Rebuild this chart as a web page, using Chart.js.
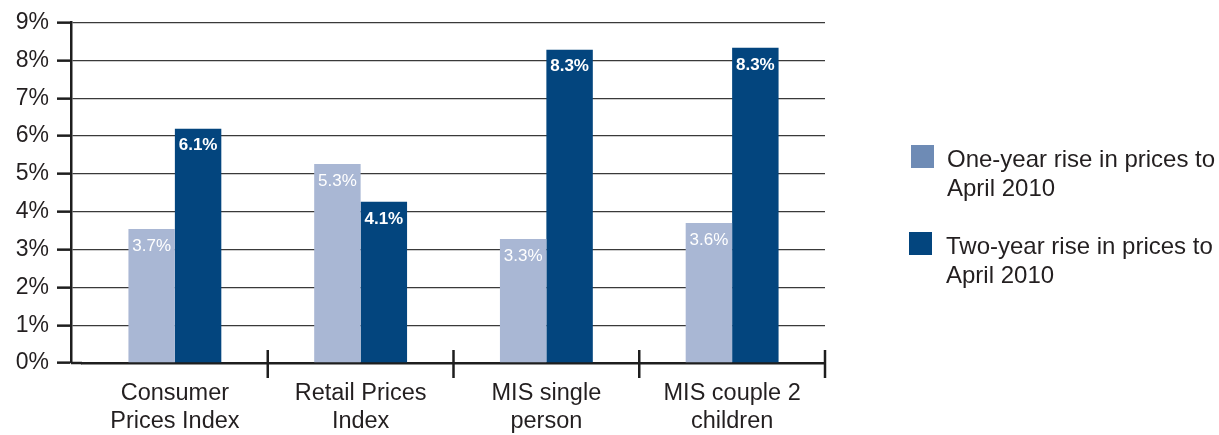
<!DOCTYPE html>
<html>
<head>
<meta charset="utf-8">
<script src="https://cdn.jsdelivr.net/npm/chart.js@4/dist/chart.umd.min.js"></script>
<style>
  html, body { margin: 0; padding: 0; background: #ffffff; }
  #wrap { position: relative; width: 1219px; height: 435px; }
</style>
</head>
<body>
<div id="wrap"><canvas id="priceChart"></canvas></div>
<script>
// categories (multi-line x labels)
const categories = [
  ['Consumer', 'Prices Index'],
  ['Retail Prices', 'Index'],
  ['MIS single', 'person'],
  ['MIS couple 2', 'children']
];

// series names (legend, two lines each)
const seriesNames = [
  ['One-year rise in prices to', 'April 2010'],
  ['Two-year rise in prices to', 'April 2010']
];

// bar heights (%)
const oneYearValues = [3.54, 5.26, 3.28, 3.70];
const twoYearValues = [6.19, 4.26, 8.28, 8.33];

// printed labels on the bars
const oneYearLabels = ['3.7%', '5.3%', '3.3%', '3.6%'];
const twoYearLabels = ['6.1%', '4.1%', '8.3%', '8.3%'];

// y axis ticks
const yTicks = [0, 1, 2, 3, 4, 5, 6, 7, 8, 9];

const FONT = '"Liberation Sans", Arial, Helvetica, sans-serif';
const TEXT = '#231f20';
const LIGHT = '#a9b7d4';
const DARK = '#03457e';
const LEGEND_COLORS = ['#6e8bb5', '#03457e'];

// shift the category axis so the plot starts a little right of the y axis line
const shiftCategories = {
  id: 'shiftCategories',
  afterLayout(chart) {
    const x = chart.scales.x;
    x.left = chart.chartArea.left + 11;
    x.configure();
  }
};

// white value labels just inside the top of each bar
const barLabels = {
  id: 'barLabels',
  afterDatasetsDraw(chart) {
    const ctx = chart.ctx;
    const sets = [
      { labels: oneYearLabels, font: 'normal 17px ' + FONT },
      { labels: twoYearLabels, font: 'bold 17px ' + FONT }
    ];
    ctx.save();
    ctx.fillStyle = '#ffffff';
    ctx.textAlign = 'center';
    ctx.textBaseline = 'middle';
    sets.forEach((s, di) => {
      ctx.font = s.font;
      chart.getDatasetMeta(di).data.forEach((bar, i) => {
        ctx.fillText(s.labels[i], bar.x, bar.y + 17);
      });
    });
    ctx.restore();
  }
};

// category separators crossing the x axis
const categoryTicks = {
  id: 'categoryTicks',
  afterDraw(chart) {
    const ctx = chart.ctx;
    const x = chart.scales.x;
    const base = chart.chartArea.bottom;
    ctx.save();
    ctx.strokeStyle = '#1e1e1e';
    ctx.lineWidth = 2.5;
    // extend x axis line back to the y axis
    ctx.beginPath();
    ctx.moveTo(chart.chartArea.left, base);
    ctx.lineTo(x.left, base);
    ctx.stroke();
    for (let k = 1; k <= categories.length; k++) {
      const px = x.getPixelForValue(k - 0.5);
      ctx.beginPath();
      ctx.moveTo(px, base - 13);
      ctx.lineTo(px, base + 15);
      ctx.stroke();
    }
    ctx.restore();
  }
};

// legend on the right with wrapped text
const sideLegend = {
  id: 'sideLegend',
  afterDraw(chart) {
    const ctx = chart.ctx;
    const items = [
      { sx: 911, sy: 145, tx: 947, ty: 160 },
      { sx: 909, sy: 232, tx: 946, ty: 247 }
    ];
    ctx.save();
    ctx.font = '24px ' + FONT;
    ctx.textBaseline = 'middle';
    ctx.textAlign = 'left';
    items.forEach((it, i) => {
      ctx.fillStyle = LEGEND_COLORS[i];
      ctx.fillRect(it.sx, it.sy, 23, 23);
      ctx.fillStyle = TEXT;
      seriesNames[i].forEach((line, j) => {
        ctx.fillText(line, it.tx, it.ty + j * 29);
      });
    });
    ctx.restore();
  }
};

const ctx = document.getElementById('priceChart').getContext('2d');
new Chart(ctx, {
  type: 'bar',
  data: {
    labels: categories,
    datasets: [
      {
        label: seriesNames[0].join(' '),
        data: oneYearValues,
        backgroundColor: LIGHT,
        categoryPercentage: 0.5,
        barPercentage: 1.0
      },
      {
        label: seriesNames[1].join(' '),
        data: twoYearValues,
        backgroundColor: DARK,
        categoryPercentage: 0.5,
        barPercentage: 1.0
      }
    ]
  },
  options: {
    responsive: true,
    maintainAspectRatio: false,
    animation: false,
    devicePixelRatio: 1,
    layout: { padding: { top: 22.5, right: 394, bottom: 0, left: 0 } },
    plugins: {
      legend: { display: false },
      tooltip: { enabled: false }
    },
    scales: {
      x: {
        offset: true,
        grid: { display: false, drawTicks: false },
        border: { display: true, color: '#1e1e1e', width: 2.5 },
        ticks: {
          color: TEXT,
          font: { family: FONT, size: 23.5, lineHeight: 1.21 },
          padding: 16,
          maxRotation: 0,
          autoSkip: false
        },
        afterFit(scale) { scale.height = 72; }
      },
      y: {
        min: yTicks[0],
        max: yTicks[yTicks.length - 1],
        afterBuildTicks(scale) {
          scale.ticks = yTicks.map(v => ({ value: v }));
        },
        grid: {
          color: '#3a3a3a',
          lineWidth: 1.3,
          tickLength: 14,
          tickColor: '#1e1e1e',
          tickWidth: 2.5
        },
        border: { display: true, color: '#1e1e1e', width: 2.5 },
        ticks: {
          color: TEXT,
          font: { family: FONT, size: 23 },
          padding: 8,
          callback: v => v + '%'
        },
        afterFit(scale) { scale.width = 71; }
      }
    }
  },
  plugins: [shiftCategories, barLabels, categoryTicks, sideLegend]
});
</script>
</body>
</html>
